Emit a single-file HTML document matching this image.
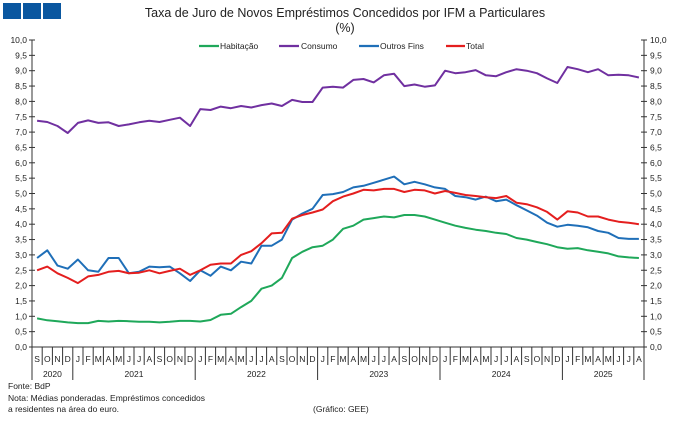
<!DOCTYPE html>
<html><head><meta charset="utf-8"><style>
body{margin:0;background:#fff;font-family:"Liberation Sans",sans-serif}
svg text{font-family:"Liberation Sans",sans-serif;fill:#222}
</style></head><body>
<svg id="s" width="679" height="419" xmlns="http://www.w3.org/2000/svg">
<rect x="3" y="3" width="18" height="16" fill="#0a57a0"/>
<rect x="23" y="3" width="18" height="16" fill="#0a57a0"/>
<rect x="43" y="3" width="18" height="16" fill="#0a57a0"/>
<text x="345" y="17" font-size="12.5" text-anchor="middle">Taxa de Juro de Novos Empréstimos Concedidos por IFM a Particulares</text>
<text x="345" y="32" font-size="12.5" text-anchor="middle">(%)</text>
<g font-size="8.5">
<line x1="199" y1="46" x2="219" y2="46" stroke="#1fa85a" stroke-width="2.2"/><text x="220" y="49">Habitação</text>
<line x1="279" y1="46" x2="299" y2="46" stroke="#7030a0" stroke-width="2.2"/><text x="301" y="49">Consumo</text>
<line x1="359" y1="46" x2="379" y2="46" stroke="#1f6fb8" stroke-width="2.2"/><text x="380" y="49">Outros Fins</text>
<line x1="446" y1="46" x2="465" y2="46" stroke="#e41e1e" stroke-width="2.2"/><text x="466" y="49">Total</text>
</g>
<g id="ax"></g>
<g id="ln"></g>
<g font-size="8.5">
<text x="8" y="389">Fonte: BdP</text>
<text x="8" y="401">Nota: Médias ponderadas.  Empréstimos concedidos</text>
<text x="8" y="412">a residentes na área do euro.</text>
<text x="313" y="412">(Gráfico: GEE)</text>
</g>
</svg>
<script>
var L=32,R=644,T=40,B=347,n=60,w=(R-L)/n;
function Y(v){return B-(B-T)*v/10}
var ax='';
ax+='<line x1="'+L+'" y1="'+T+'" x2="'+L+'" y2="'+B+'" stroke="#333" stroke-width="1"/>';
ax+='<line x1="'+R+'" y1="'+T+'" x2="'+R+'" y2="'+B+'" stroke="#333" stroke-width="1"/>';
ax+='<line x1="'+L+'" y1="'+B+'" x2="'+R+'" y2="'+B+'" stroke="#333" stroke-width="1"/>';
for(var i=0;i<=20;i++){var v=i/2,y=Y(v),t=v.toFixed(1).replace('.',',');
ax+='<line x1="'+(L-3)+'" y1="'+y+'" x2="'+(L+3)+'" y2="'+y+'" stroke="#333"/>';
ax+='<line x1="'+(R-3)+'" y1="'+y+'" x2="'+(R+3)+'" y2="'+y+'" stroke="#333"/>';
ax+='<text x="'+(L-5)+'" y="'+(y+3)+'" font-size="8.5" text-anchor="end">'+t+'</text>';
ax+='<text x="'+(R+6)+'" y="'+(y+3)+'" font-size="8.5">'+t+'</text>';}
var m="SONDJFMAMJJA";
for(var i=0;i<n;i++){var x=L+i*w;
var mi=i%12, isY=(mi==4);
ax+='<line x1="'+x+'" y1="'+B+'" x2="'+x+'" y2="'+(isY||i==0?380:365)+'" stroke="#333"/>';
ax+='<text x="'+(x+w/2)+'" y="'+(B+15)+'" font-size="8.5" text-anchor="middle">'+m[mi]+'</text>';}
ax+='<line x1="'+R+'" y1="'+B+'" x2="'+R+'" y2="380" stroke="#333"/>';
var yrs=[[0,4,'2020'],[4,16,'2021'],[16,28,'2022'],[28,40,'2023'],[40,52,'2024'],[52,60,'2025']];
yrs.forEach(function(a){ax+='<text x="'+(L+(a[0]+a[1])/2*w)+'" y="377" font-size="8.5" text-anchor="middle">'+a[2]+'</text>';});
document.getElementById('ax').innerHTML=ax;
var H=[0.93,0.87,0.84,0.80,0.78,0.78,0.85,0.83,0.85,0.84,0.82,0.82,0.80,0.82,0.85,0.85,0.83,0.88,1.05,1.08,1.3,1.5,1.9,2.0,2.25,2.9,3.1,3.25,3.3,3.5,3.85,3.95,4.15,4.2,4.25,4.22,4.3,4.3,4.25,4.15,4.05,3.95,3.88,3.82,3.78,3.72,3.68,3.55,3.5,3.42,3.35,3.25,3.2,3.22,3.15,3.1,3.05,2.95,2.92,2.9];
var C=[7.37,7.33,7.2,6.97,7.3,7.38,7.3,7.32,7.2,7.25,7.32,7.37,7.33,7.4,7.47,7.2,7.75,7.72,7.83,7.78,7.85,7.8,7.88,7.93,7.85,8.05,7.98,7.98,8.45,8.48,8.45,8.7,8.73,8.62,8.85,8.9,8.5,8.55,8.48,8.52,9.0,8.92,8.95,9.02,8.85,8.82,8.95,9.05,9.0,8.92,8.75,8.6,9.12,9.05,8.95,9.05,8.85,8.87,8.85,8.78];
var O=[2.9,3.15,2.65,2.55,2.85,2.5,2.45,2.9,2.9,2.4,2.45,2.62,2.6,2.62,2.4,2.15,2.5,2.32,2.62,2.5,2.78,2.72,3.3,3.3,3.5,4.15,4.35,4.5,4.95,4.98,5.05,5.2,5.25,5.35,5.45,5.55,5.3,5.38,5.3,5.2,5.15,4.92,4.88,4.8,4.9,4.75,4.8,4.62,4.45,4.28,4.05,3.92,3.98,3.95,3.9,3.78,3.72,3.55,3.52,3.52];
var Tt=[2.5,2.62,2.4,2.25,2.08,2.3,2.35,2.45,2.48,2.4,2.42,2.5,2.4,2.48,2.55,2.35,2.5,2.68,2.72,2.72,3.0,3.12,3.38,3.7,3.72,4.18,4.3,4.38,4.48,4.75,4.9,5.0,5.12,5.1,5.15,5.15,5.05,5.12,5.1,5.0,5.08,5.02,4.95,4.92,4.88,4.85,4.92,4.7,4.65,4.55,4.4,4.15,4.42,4.38,4.25,4.25,4.15,4.08,4.05,4.0];
function P(d,c){return '<polyline fill="none" stroke="'+c+'" stroke-width="2" stroke-linejoin="round" points="'+d.map(function(v,i){return (L+(i+0.5)*w).toFixed(1)+','+Y(v).toFixed(1)}).join(' ')+'"/>';}
document.getElementById('ln').innerHTML=P(H,'#1fa85a')+P(C,'#7030a0')+P(O,'#1f6fb8')+P(Tt,'#e41e1e');
</script>
</body></html>
